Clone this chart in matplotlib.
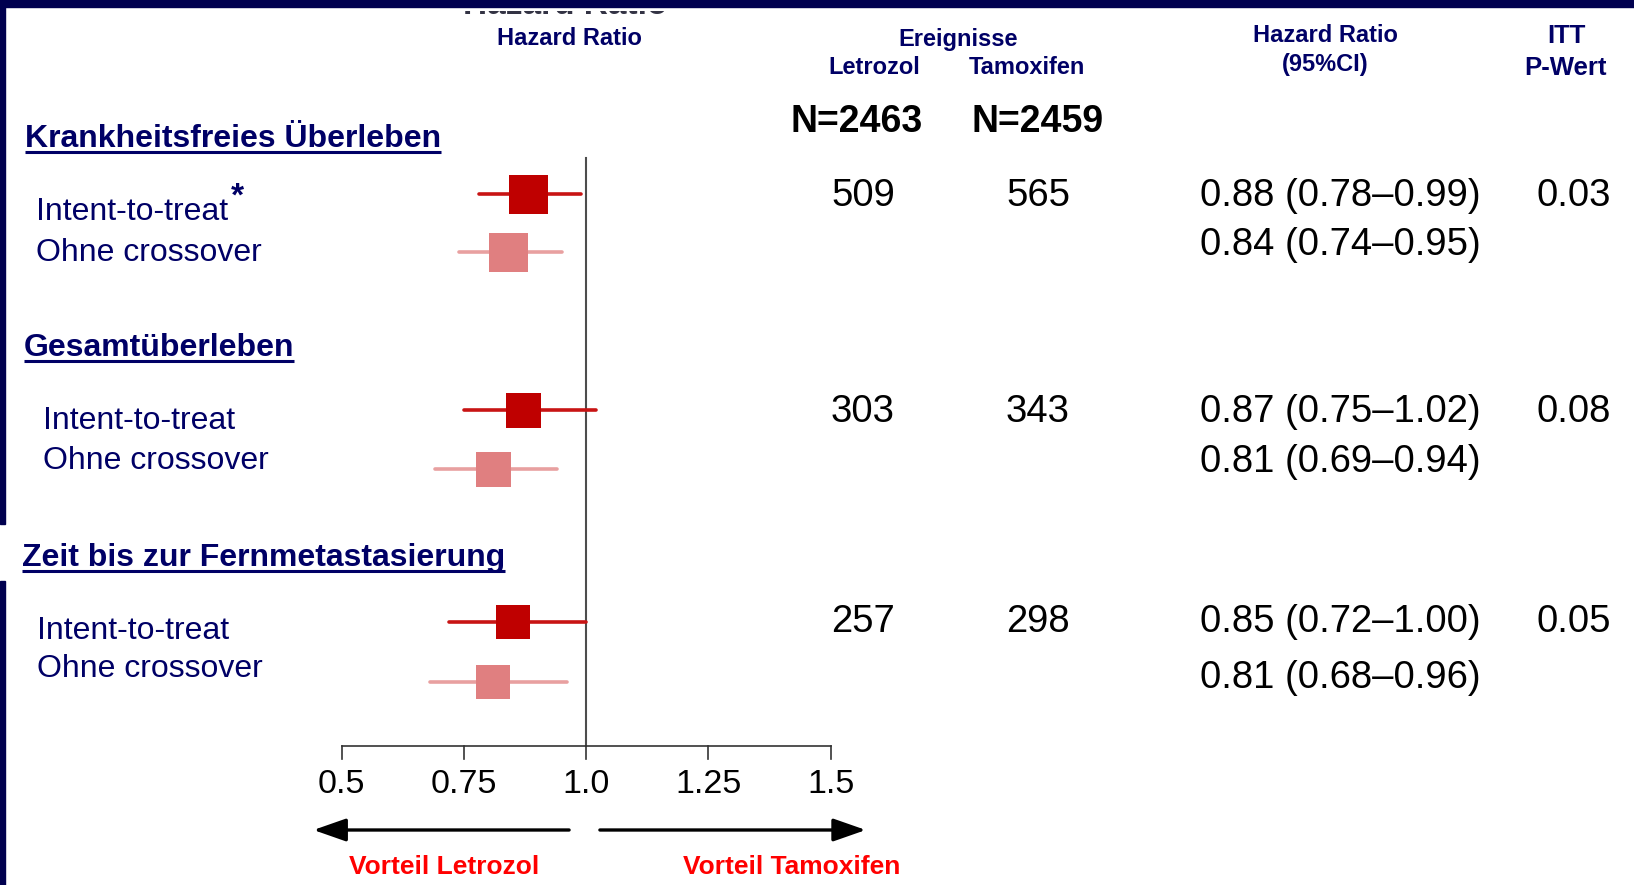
"""
Forest-Plot BIG 1-98: Letrozol vs. Tamoxifen (Hazard Ratio mit 95%-KI)
Erzeugt out.png (1634 x 885 px)
"""
import matplotlib
matplotlib.use('Agg')
import matplotlib.pyplot as plt
from matplotlib.patches import Rectangle, FancyArrowPatch

plt.rcParams['font.family'] = ['Liberation Sans', 'DejaVu Sans']

# ============================================================
#  Daten
# ============================================================
OUTCOMES = ['Krankheitsfreies Überleben', 'Gesamtüberleben',
            'Zeit bis zur Fernmetastasierung']
ROW_LABELS = ['Intent-to-treat', 'Ohne crossover'] * 3
HR = [0.88, 0.84, 0.87, 0.81, 0.85, 0.81]
CI_LOW = [0.78, 0.74, 0.75, 0.69, 0.72, 0.68]
CI_HIGH = [0.99, 0.95, 1.02, 0.94, 1.00, 0.96]
EVENTS_LETROZOL = [509, 303, 257]
EVENTS_TAMOXIFEN = [565, 343, 298]
P_ITT = ['0.03', '0.08', '0.05']
N_LETROZOL = 2463
N_TAMOXIFEN = 2459
X_TICKS = [0.5, 0.75, 1.0, 1.25, 1.5]
X_TICK_LABELS = ['0.5', '0.75', '1.0', '1.25', '1.5']

# ============================================================
#  Layout (Pixel, y von oben)
# ============================================================
W, H = 1634, 885
HR05_PX = 341.8          # Pixelposition von HR = 0.5
PX_PER_UNIT = 488.8      # Pixel pro HR-Einheit
ROW_Y = [194, 252, 410, 469, 622, 682]
LABEL_BASE = [220, 261, 429, 469, 639, 677]
LABEL_X = [36, 36, 43, 43, 37, 37]
NUM_BASE = [206, 255, 422, 472, 632, 688]
HEAD_X = [25, 24, 22]
HEAD_BASE = [147, 356, 566]
BOX_PX = [39, 39, 35, 35, 34, 34]
AXIS_Y = 746

NAVY = '#000066'
BAR = '#00004f'
DARK_RED = '#bf0000'
DARK_RED_LINE = '#c81414'
PINK = '#e07f80'
PINK_LINE = '#e8a0a0'

fig = plt.figure(figsize=(W / 100, H / 100), dpi=100)

# Text-Ebene in Pixelkoordinaten
lay = fig.add_axes([0, 0, 1, 1])
lay.set_xlim(0, W)
lay.set_ylim(H, 0)
lay.axis('off')

# Forest-Ebene: x in HR-Einheiten, y in Pixeln
ax = fig.add_axes([0, 0, 1, 1])
ax.set_xlim(0.5 - HR05_PX / PX_PER_UNIT, 0.5 + (W - HR05_PX) / PX_PER_UNIT)
ax.set_ylim(H, 0)
ax.axis('off')
ax.patch.set_alpha(0)

# abgeschnittener Titelrest am oberen Rand (nur Unterkanten sichtbar)
top_t = lay.text(565, 14.5, 'Hazard Ratio', ha='center', va='baseline', fontsize=24,
                 fontweight='bold', color='#333344', zorder=1, clip_on=True)
top_t.set_clip_path(Rectangle((0, 11), W, 6, transform=lay.transData))
# Rahmenbalken
lay.add_patch(Rectangle((0, 0), W, 7, color=BAR, zorder=3))
lay.add_patch(Rectangle((0, 0), 5, 524, color=BAR, zorder=3))
lay.add_patch(Rectangle((0, 581), 5, H - 581, color=BAR, zorder=3))

# Spaltenköpfe
hdr = dict(ha='center', va='baseline', fontsize=17, fontweight='bold', color=NAVY)
lay.text(569, 45, 'Hazard Ratio', **hdr)
lay.text(958, 46, 'Ereignisse', **hdr)
lay.text(874, 74, 'Letrozol', **hdr)
lay.text(1027, 74, 'Tamoxifen', **hdr)
lay.text(1325, 42, 'Hazard Ratio', **hdr)
lay.text(1325, 71, '(95%CI)', **hdr)
hdr['fontsize'] = 18.5
lay.text(1566, 43, 'ITT', **hdr)
lay.text(1566, 75, 'P-Wert', **hdr)

nfmt = dict(ha='center', va='baseline', fontsize=27, fontweight='bold', color='black')
lay.text(857, 132, f'N={N_LETROZOL}', **nfmt)
lay.text(1038, 132, f'N={N_TAMOXIFEN}', **nfmt)

# Abschnittsüberschriften (unterstrichen)
head_texts = []
for name, x, yb in zip(OUTCOMES, HEAD_X, HEAD_BASE):
    t = lay.text(x, yb, name, ha='left', va='baseline', fontsize=23,
                 fontweight='bold', color=NAVY)
    head_texts.append((t, yb))

# Zeilenbeschriftungen
for lab, x, yb in zip(ROW_LABELS, LABEL_X, LABEL_BASE):
    lay.text(x, yb, lab, ha='left', va='baseline', fontsize=23, color=NAVY)
lay.text(231, 206, '*', ha='left', va='baseline', fontsize=24,
         fontweight='bold', color=NAVY)

# Ereignisse, HR-Text, p-Werte
num = dict(va='baseline', fontsize=27.5, color='black')
for i in range(3):
    yb = NUM_BASE[2 * i]
    lay.text(863, yb, str(EVENTS_LETROZOL[i]), ha='center', **num)
    lay.text(1038, yb, str(EVENTS_TAMOXIFEN[i]), ha='center', **num)
    lay.text(1574, yb, P_ITT[i], ha='center', **num)
for i in range(6):
    lay.text(1200, NUM_BASE[i], f'{HR[i]:.2f} ({CI_LOW[i]:.2f}\u2013{CI_HIGH[i]:.2f})',
             ha='left', **num)

# Referenzlinie bei HR = 1
ax.plot([1.0, 1.0], [158, AXIS_Y], color='#4d4d4d', lw=1.5, zorder=1)

# Konfidenzintervalle und Punktschätzer
for i in range(6):
    itt = i % 2 == 0
    lc = DARK_RED_LINE if itt else PINK_LINE
    bc = DARK_RED if itt else PINK
    ax.plot([CI_LOW[i], CI_HIGH[i]], [ROW_Y[i], ROW_Y[i]], color=lc, lw=2.6,
            solid_capstyle='round', zorder=2)
    ax.plot([HR[i]], [ROW_Y[i]], marker='s', markersize=BOX_PX[i] * 0.72,
            color=bc, markeredgewidth=0, zorder=3)

# x-Achse
ax.plot([X_TICKS[0], X_TICKS[-1]], [AXIS_Y, AXIS_Y], color='#333333', lw=1.2)
for xt, lab in zip(X_TICKS, X_TICK_LABELS):
    ax.plot([xt, xt], [AXIS_Y, AXIS_Y + 13], color='#333333', lw=1.2)
    ax.text(xt, 793, lab, ha='center', va='baseline', fontsize=24.5, color='black')

# Pfeile
arrow_kw = dict(arrowstyle='-|>,head_length=1.0,head_width=0.35',
                mutation_scale=20, color='black', lw=2.4, shrinkA=0, shrinkB=0)
ax.add_patch(FancyArrowPatch((0.965, 830), (0.442, 830), **arrow_kw))
ax.add_patch(FancyArrowPatch((1.028, 830), (1.572, 830), **arrow_kw))
lay.text(444, 874, 'Vorteil Letrozol', ha='center', va='baseline', fontsize=19,
         fontweight='bold', color='#ff0000')
lay.text(792, 874, 'Vorteil Tamoxifen', ha='center', va='baseline', fontsize=19,
         fontweight='bold', color='#ff0000')

# Unterstreichungen nach Textausdehnung
fig.canvas.draw()
renderer = fig.canvas.get_renderer()
for t, yb in head_texts:
    bb = t.get_window_extent(renderer)
    lay.plot([bb.x0, bb.x1], [yb + 5, yb + 5], color=NAVY, lw=2.2,
             solid_capstyle='butt')

fig.savefig('out.png', dpi=100)
